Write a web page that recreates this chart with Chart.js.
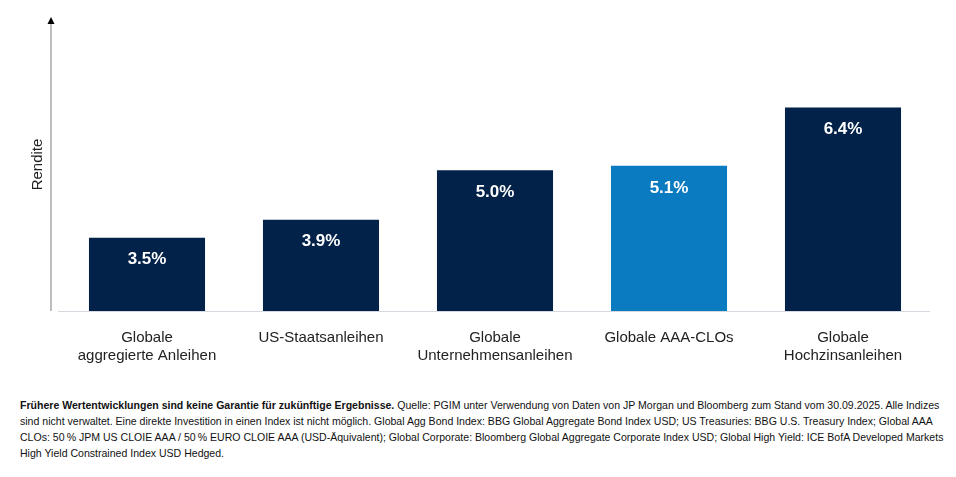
<!DOCTYPE html>
<html><head><meta charset="utf-8">
<script src="https://cdn.jsdelivr.net/npm/chart.js@4"></script>
<style>
html,body{margin:0;padding:0;background:#fff;}
#wrap{position:relative;width:956px;height:383px;}
#note{position:absolute;left:20px;top:397px;font-family:"Liberation Sans",Arial,sans-serif;font-size:10.55px;line-height:16px;color:#111;white-space:nowrap;}
</style></head>
<body>
<div id="wrap"><canvas id="c"></canvas></div>
<div id="note"><b>Frühere Wertentwicklungen sind keine Garantie für zukünftige Ergebnisse.</b> Quelle: PGIM unter Verwendung von Daten von JP Morgan und Bloomberg zum Stand vom 30.09.2025. Alle Indizes<br>sind nicht verwaltet. Eine direkte Investition in einen Index ist nicht möglich. Global Agg Bond Index: BBG Global Aggregate Bond Index USD; US Treasuries: BBG U.S. Treasury Index; Global AAA<br>CLOs: 50&#8239;% JPM US CLOIE AAA / 50&#8239;% EURO CLOIE AAA (USD-Äquivalent); Global Corporate: Bloomberg Global Aggregate Corporate Index USD; Global High Yield: ICE BofA Developed Markets<br>High Yield Constrained Index USD Hedged.</div>
<script>
const categories = [["Globale","aggregierte Anleihen"],"US-Staatsanleihen",["Globale","Unternehmensanleihen"],"Globale AAA-CLOs",["Globale","Hochzinsanleihen"]];
const yields = [3.5, 3.9, 5.0, 5.1, 6.4];
const valueLabels = ["3.5%","3.9%","5.0%","5.1%","6.4%"];
const barColors = ["#02224A","#02224A","#02224A","#0A7BC1","#02224A"];

const axisPlugin = {
  id:'axisPlugin',
  afterDatasetsDraw(chart){
    const {ctx, chartArea:a} = chart;
    ctx.save();
    ctx.strokeStyle='#D6DAE0'; ctx.lineWidth=1;
    ctx.beginPath(); ctx.moveTo(a.left-2, a.bottom+0.5); ctx.lineTo(a.right, a.bottom+0.5); ctx.stroke();
    const x = a.left - 9;
    ctx.strokeStyle='#BDBDBD'; ctx.lineWidth=2;
    ctx.beginPath(); ctx.moveTo(x, a.bottom); ctx.lineTo(x, a.top+4); ctx.stroke();
    ctx.fillStyle='#000';
    ctx.beginPath(); ctx.moveTo(x, a.top-1); ctx.lineTo(x-3.5, a.top+6); ctx.lineTo(x+3.5, a.top+6); ctx.closePath(); ctx.fill();
    const meta = chart.getDatasetMeta(0);
    ctx.fillStyle='#fff';
    ctx.font='bold 17px "Liberation Sans",Arial,sans-serif';
    ctx.textAlign='center'; ctx.textBaseline='middle';
    meta.data.forEach((bar,i)=>{ ctx.fillText(valueLabels[i], bar.x, bar.y+22); });
    ctx.restore();
  }
};

new Chart(document.getElementById('c'),{
  type:'bar',
  data:{labels:categories,datasets:[{data:yields,backgroundColor:barColors,borderWidth:0,categoryPercentage:1,barPercentage:0.667}]},
  options:{
    responsive:true,maintainAspectRatio:false,animation:false,
    layout:{padding:{left:29,right:26,top:18,bottom:0}},
    plugins:{legend:{display:false},tooltip:{enabled:false}},
    scales:{
      x:{grid:{display:false,drawTicks:false},border:{display:false},
         ticks:{color:'#222',font:{family:'"Liberation Sans",Arial,sans-serif',size:15},padding:18,maxRotation:0,autoSkip:false}},
      y:{min:1.87,max:8.39,grid:{display:false,drawTicks:false},border:{display:false},
         ticks:{display:false},
         title:{display:true,text:'Rendite',color:'#222',font:{family:'"Liberation Sans",Arial,sans-serif',size:15},padding:{top:0,bottom:13}}}
    }
  },
  plugins:[axisPlugin]
});
</script>
</body></html>
